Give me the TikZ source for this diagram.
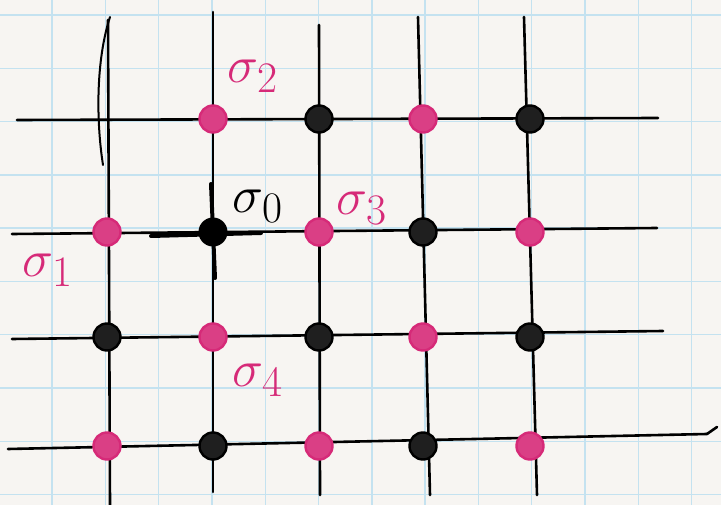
\documentclass[tikz,border=0pt]{standalone}
\usepackage{tikz}
\usepackage{graphicx}
\usepackage{amsmath,amssymb}
\usepackage{xcolor}
\usetikzlibrary{positioning,calc}
\definecolor{paper}{RGB}{247,245,242}
\definecolor{paperline}{RGB}{196,226,240}
\definecolor{spinpink}{RGB}{214,42,120}
\newcommand{\spin}[1]{\scalebox{2.1}{$\sigma_{#1}$}}

\begin{document}
\begin{tikzpicture}[x=1pt, y=-1pt, line cap=round]
  \tikzset{
    site/.style={circle, draw, line width=2.4pt, minimum size=27pt, inner sep=0pt},
    pinksite/.style={site, draw=spinpink, fill=spinpink!90},
    blacksite/.style={site, draw=black, fill=black!88},
    wire/.style={line width=2.6pt, black},
    spinlbl/.style={font=\Huge, inner sep=0pt}
  }
  \useasboundingbox (0,0) rectangle (721,505);
  \fill[paper] (0,0) rectangle (721,505);

  % graph paper
  \foreach \k in {0,...,12} {
    \draw[paperline, line width=1.4pt] (52+\k*53.3,0) -- (52+\k*53.3,505);
  }
  \foreach \k in {0,...,9} {
    \draw[paperline, line width=1.4pt] (0,15+\k*53.3) -- (721,15+\k*53.3);
  }

  % line ends
  \coordinate (L0) at (17,120);  \coordinate (R0) at (658,118);
  \coordinate (L1) at (12,234);  \coordinate (R1) at (657,228);
  \coordinate (L2) at (12,339);  \coordinate (R2) at (663,331);
  \coordinate (L3) at (8,449);   \coordinate (R3) at (707,434);
  \coordinate (T0) at (108,20);  \coordinate (B0) at (110,505);
  \coordinate (T1) at (213,12);  \coordinate (B1) at (213,492);
  \coordinate (T2) at (319,25);  \coordinate (B2) at (320,495);
  \coordinate (T3) at (418,17);  \coordinate (B3) at (430,495);
  \coordinate (T4) at (524,17);  \coordinate (B4) at (537,495);

  \foreach \r in {0,...,3} \draw[wire] (L\r) -- (R\r);
  \draw[wire] (R3) -- ++(10,-7);
  \foreach \c in {0,...,4} \draw[wire] (T\c) -- (B\c);
  \draw[wire, line width=2pt] (110,17) .. controls (96,60) and (96,120) .. (103,165);

  % sites: pink on odd, black on even
  \foreach \r/\y in {0/119,1/232,2/337,3/446} {
    \foreach \c/\x in {0/107,1/213,2/319,3/423,4/530} {
      \pgfmathsetmacro{\s}{int(mod(\r+\c,2))}
      \ifnum\r\c=0 \coordinate (N\c\r) at (\x,\y);
      \else\ifnum\r\c=11 \coordinate (N\c\r) at (\x,\y);
      \else
        \ifcase\s \node[blacksite] (N\c\r) at (\x,\y) {};
        \or \node[pinksite] (N\c\r) at (\x,\y) {};
        \fi
      \fi\fi
    }
  }

  % centre site
  \node[circle, fill=black, minimum size=29pt, inner sep=0pt] (C) at (N11) {};
  \draw[line width=4pt] ($(C)+(-62,4)$) -- ($(C)+(48,1)$);
  \draw[line width=4pt] ($(C)+(-2,-48)$) -- ($(C)+(2,46)$);

  \node[spinlbl] (s0) at (258,206) {\spin{0}};
  \node[spinlbl, spinpink] (s1) at (48,270) {\spin{1}};
  \node[spinlbl, spinpink] (s2) at (253,76) {\spin{2}};
  \node[spinlbl, spinpink] (s3) at (362,208) {\spin{3}};
  \node[spinlbl, spinpink] (s4) at (258,380) {\spin{4}};
\end{tikzpicture}
\end{document}
